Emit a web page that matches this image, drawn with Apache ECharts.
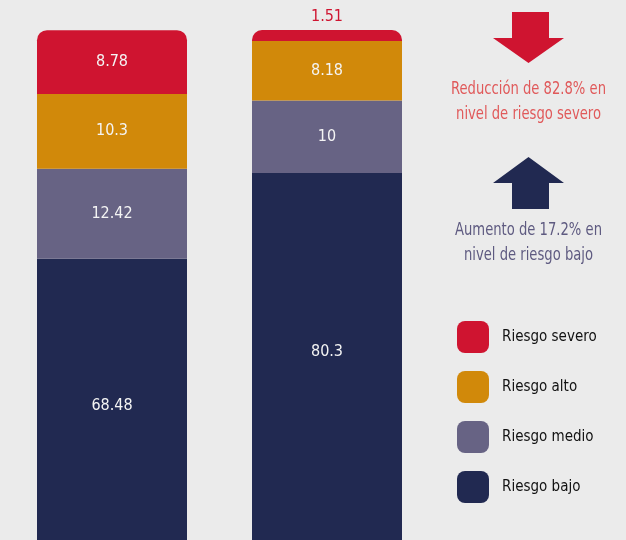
<!DOCTYPE html>
<html>
<head>
<meta charset="utf-8">
<script src="https://cdn.jsdelivr.net/npm/echarts@6/dist/echarts.min.js"></script>
<style>
html,body{margin:0;padding:0;background:#ebebeb;}
#c{width:626px;height:540px;}
</style>
</head>
<body>
<div id="c"></div>
<script>
var categories = ['Antes', 'Después'];
var riesgoBajo = [68.48, 80.3];
var riesgoMedio = [12.42, 10];
var riesgoAlto = [10.3, 8.18];
var riesgoSevero = [8.78, 1.51];
var legendOrder = ['Riesgo severo', 'Riesgo alto', 'Riesgo medio', 'Riesgo bajo'];
var noteReduccion = 'Reducción de 82.8% en\nnivel de riesgo severo';
var noteAumento = 'Aumento de 17.2% en\nnivel de riesgo bajo';

var FONT = '"DejaVu Sans Condensed", "Liberation Sans Narrow", sans-serif';
var colors = {
  'Riesgo bajo': '#212951',
  'Riesgo medio': '#676384',
  'Riesgo alto': '#d1890a',
  'Riesgo severo': '#cf1430'
};
var baseLabel = {
  show: true, position: 'inside', color: '#f4f4f4',
  fontFamily: FONT, fontSize: 16
};

var chart = echarts.init(document.getElementById('c'), null, {renderer: 'canvas'});

var bajoData = riesgoBajo.map(function (v, i) {
  return {value: v, label: {position: ['50%', i === 0 ? 147 : 179], align: 'center', verticalAlign: 'middle'}};
});
var severoData = riesgoSevero.map(function (v, i) {
  if (i === 1) {
    return {value: v, label: {position: 'top', distance: 5, color: '#cf1430'}};
  }
  return v;
});

chart.setOption({
  backgroundColor: '#ebebeb',
  animation: false,
  grid: {left: 4.5, width: 430, top: 30, bottom: 0},
  xAxis: {type: 'category', data: categories, show: false},
  yAxis: {type: 'value', min: 29.75, max: 100, show: false},
  legend: {
    orient: 'vertical', left: 457, top: 321, padding: 0,
    data: legendOrder,
    icon: 'roundRect', itemWidth: 32, itemHeight: 32, itemGap: 18,
    textStyle: {fontFamily: FONT, fontSize: 15, color: '#111', padding: [0, 0, 0, 8]},
    selectedMode: false
  },
  series: [
    {name: 'Riesgo bajo', type: 'bar', stack: 's', barWidth: 150, data: bajoData, clip: true,
     itemStyle: {color: colors['Riesgo bajo']}, label: baseLabel},
    {name: 'Riesgo medio', type: 'bar', stack: 's', barWidth: 150, data: riesgoMedio,
     itemStyle: {color: colors['Riesgo medio']}, label: baseLabel},
    {name: 'Riesgo alto', type: 'bar', stack: 's', barWidth: 150, data: riesgoAlto,
     itemStyle: {color: colors['Riesgo alto']}, label: baseLabel},
    {name: 'Riesgo severo', type: 'bar', stack: 's', barWidth: 150, data: severoData,
     itemStyle: {color: colors['Riesgo severo'], borderRadius: [10, 10, 0, 0]}, label: baseLabel}
  ],
  graphic: [
    {type: 'polygon', shape: {points: [[512, 12], [549, 12], [549, 38], [564, 38], [528.5, 63], [493, 38], [512, 38]]},
     style: {fill: '#cf1430'}},
    {type: 'text', x: 528.5, y: 102, style: {text: noteReduccion, fill: '#e0595a', font: '17px ' + FONT,
     align: 'center', verticalAlign: 'middle', lineHeight: 25}, scaleX: 0.86, originX: 0},
    {type: 'polygon', shape: {points: [[528.5, 157], [564, 183], [549, 183], [549, 209], [512, 209], [512, 183], [493, 183]]},
     style: {fill: '#212951'}},
    {type: 'text', x: 528.5, y: 243, style: {text: noteAumento, fill: '#5e5a80', font: '17px ' + FONT,
     align: 'center', verticalAlign: 'middle', lineHeight: 25}, scaleX: 0.86, originX: 0}
  ]
});
</script>
</body>
</html>
